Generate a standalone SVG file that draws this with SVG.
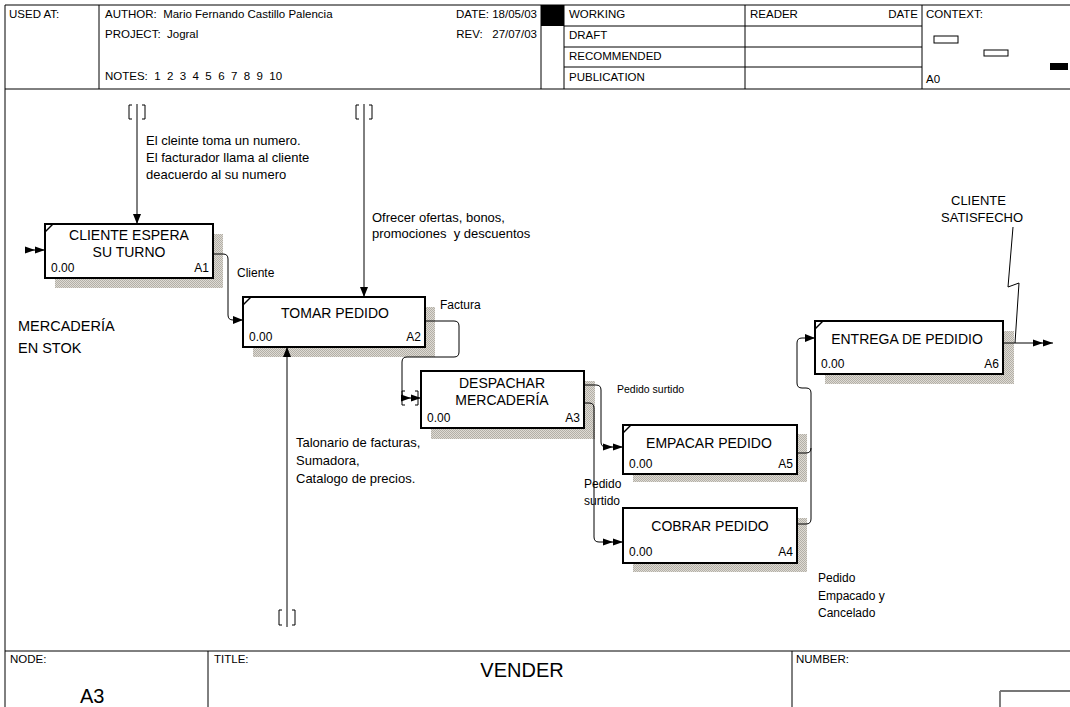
<svg xmlns="http://www.w3.org/2000/svg" width="1070" height="707" viewBox="0 0 1070 707">
<style>
text{font-family:"Liberation Sans",Arial,sans-serif;fill:#000}
.h{font-size:11.5px}
.n{font-size:14px}
.i{font-size:12px}
.t{font-size:13px}
.l{font-size:12px}
.fr{stroke:#000;stroke-width:1;fill:none}
.box{fill:#fff;stroke:#000;stroke-width:2}
.sh{fill:url(#hatch)}
.c path,.c line{stroke:#000;stroke-width:1;fill:none}
.tn{stroke:#333;stroke-width:1.2;fill:none}
</style>
<defs>
<pattern id="hatch" width="2" height="2" patternUnits="userSpaceOnUse"><rect width="2" height="2" fill="#dedbd4"/><rect width="1" height="1" fill="#b3afa7"/><rect x="1" y="1" width="1" height="1" fill="#b3afa7"/></pattern>
<marker id="a1" markerUnits="userSpaceOnUse" markerWidth="10" markerHeight="8" viewBox="0 0 10 8" refX="10" refY="4" orient="auto"><path d="M0,0L10,4L0,8z" fill="#000"/></marker>
<marker id="a2" markerUnits="userSpaceOnUse" markerWidth="20" markerHeight="8" viewBox="0 0 20 8" refX="20" refY="4" orient="auto"><path d="M0,0.5L10,4L0,7.5zM10,0.5L20,4L10,7.5z" fill="#000"/></marker>
</defs>
<rect width="1070" height="707" fill="#fff"/>
<g id="frame">
<path class="fr" d="M5,707V5H1070M5,89H1070M99,5V89M541,5V89M564,5V89M745,5V89M922,5V89M564,26H922M564,47H922M564,67H922"/>
<rect x="541" y="5" width="23" height="21" fill="#000"/>
<path class="fr" d="M5,651H1070M208,651V707M792,651V707M1000,707V691"/>
<path d="M1000,691H1070" stroke="#777" stroke-width="2" fill="none"/>
<text class="h" x="9" y="18">USED AT:</text>
<text class="h" x="105" y="18" xml:space="preserve">AUTHOR:  Mario Fernando Castillo Palencia</text>
<text class="h" x="105" y="38" xml:space="preserve">PROJECT:  Jogral</text>
<text class="h" x="105" y="80" xml:space="preserve">NOTES:  1  2  3  4  5  6  7  8  9  10</text>
<text class="h" x="537" y="18" text-anchor="end">DATE: 18/05/03</text>
<text class="h" x="537" y="38" text-anchor="end" xml:space="preserve">REV:   27/07/03</text>
<text class="h" x="569" y="18">WORKING</text>
<text class="h" x="569" y="39">DRAFT</text>
<text class="h" x="569" y="60">RECOMMENDED</text>
<text class="h" x="569" y="81">PUBLICATION</text>
<text class="h" x="750" y="18">READER</text>
<text class="h" x="918" y="18" text-anchor="end">DATE</text>
<text class="h" x="926" y="18">CONTEXT:</text>
<text class="h" x="926" y="83">A0</text>
<rect x="934" y="36" width="24" height="7" fill="#fff" stroke="#000"/>
<rect x="984" y="50" width="24" height="6" fill="#fff" stroke="#000"/>
<rect x="1050" y="63" width="18" height="7" fill="#000"/>
<text class="h" x="10" y="663">NODE:</text>
<text class="h" x="214" y="663">TITLE:</text>
<text class="h" x="796" y="663">NUMBER:</text>
<text x="522" y="677" text-anchor="middle" font-size="20">VENDER</text>
<text x="80" y="703" font-size="20">A3</text>
</g>
<g id="A1">
<rect class="sh" x="55" y="234" width="168" height="54"/>
<rect class="box" x="45" y="224" width="168" height="54"/>
<line x1="45" y1="232" x2="53" y2="224" stroke="#000" stroke-width="1.5"/>
<text class="n" x="129" y="240" text-anchor="middle">CLIENTE ESPERA</text>
<text class="n" x="129" y="257" text-anchor="middle">SU TURNO</text>
<text class="i" x="51" y="272">0.00</text>
<text class="i" x="209" y="272" text-anchor="end">A1</text>
</g>
<g id="A2">
<rect class="sh" x="253" y="307" width="182" height="50"/>
<rect class="box" x="243" y="297" width="182" height="50"/>
<line x1="243" y1="305" x2="251" y2="297" stroke="#000" stroke-width="1.5"/>
<text class="n" x="335" y="318" text-anchor="middle">TOMAR PEDIDO</text>
<text class="i" x="249" y="341">0.00</text>
<text class="i" x="421" y="341" text-anchor="end">A2</text>
</g>
<g id="A3">
<rect class="sh" x="431" y="381" width="164" height="58"/>
<rect class="box" x="421" y="371" width="163" height="57"/>
<text class="n" x="502" y="388" text-anchor="middle">DESPACHAR</text>
<text class="n" x="502" y="405" text-anchor="middle">MERCADERÍA</text>
<text class="i" x="427" y="422">0.00</text>
<text class="i" x="580" y="422" text-anchor="end">A3</text>
</g>
<g id="A5">
<rect class="sh" x="633" y="434" width="174" height="48"/>
<rect class="box" x="623" y="425" width="174" height="49"/>
<line x1="623" y1="433" x2="631" y2="425" stroke="#000" stroke-width="1.5"/>
<text class="n" x="709" y="448" text-anchor="middle">EMPACAR PEDIDO</text>
<text class="i" x="629" y="468">0.00</text>
<text class="i" x="793" y="468" text-anchor="end">A5</text>
</g>
<g id="A4">
<rect class="sh" x="633" y="518" width="174" height="54"/>
<rect class="box" x="623" y="508" width="174" height="55"/>
<text class="n" x="710" y="531" text-anchor="middle">COBRAR PEDIDO</text>
<text class="i" x="629" y="556">0.00</text>
<text class="i" x="793" y="556" text-anchor="end">A4</text>
</g>
<g id="A6">
<rect class="sh" x="825" y="331" width="189" height="53"/>
<rect class="box" x="815" y="321" width="188" height="53"/>
<line x1="815" y1="329" x2="823" y2="321" stroke="#000" stroke-width="1.5"/>
<text class="n" x="907" y="344" text-anchor="middle">ENTREGA DE PEDIDIO</text>
<text class="i" x="821" y="368">0.00</text>
<text class="i" x="999" y="368" text-anchor="end">A6</text>
</g>
<g id="labels">
<text class="t" x="146" y="145">El cleinte toma un numero.</text>
<text class="t" x="146" y="162">El facturador llama al cliente</text>
<text class="t" x="146" y="179">deacuerdo al su numero</text>
<text class="t" x="372" y="222">Ofrecer ofertas, bonos,</text>
<text class="t" x="372" y="238" xml:space="preserve">promociones  y descuentos</text>
<text class="l" x="237" y="277">Cliente</text>
<text class="l" x="440" y="309">Factura</text>
<text x="18" y="331" font-size="14.5">MERCADERÍA</text>
<text x="18" y="353" font-size="14.5">EN STOK</text>
<text class="t" x="296" y="447">Talonario de facturas,</text>
<text class="t" x="296" y="465">Sumadora,</text>
<text class="t" x="296" y="483">Catalogo de precios.</text>
<text font-size="10.5" x="617" y="393">Pedido surtido</text>
<text class="l" x="584" y="488">Pedido</text>
<text class="l" x="584" y="505">surtido</text>
<text class="l" x="818" y="582">Pedido</text>
<text class="l" x="818" y="600">Empacado y</text>
<text class="l" x="818" y="617">Cancelado</text>
<text class="t" x="951" y="205">CLIENTE</text>
<text class="t" x="941" y="222">SATISFECHO</text>
</g>
<g id="connectors" class="c">
<path d="M25,250H45" marker-end="url(#a2)"/>
<path d="M137,104V224" marker-end="url(#a1)"/>
<path class="tn" d="M132,105h-3v14h3M142,105h3v14h-3"/>
<path d="M364,104V297" marker-end="url(#a1)"/>
<path class="tn" d="M359,105h-3v14h3M369,105h3v14h-3"/>
<path d="M287,627V347" marker-end="url(#a1)"/>
<path class="tn" d="M282,610h-3v15h3M292,610h3v15h-3"/>
<path d="M213,254H223Q228,254 228,259V315Q228,320 233,320H243" marker-end="url(#a1)"/>
<path d="M425,321H454Q459,321 459,326V352Q459,357 454,357H407Q402,357 402,362V393Q402,398 407,398H421" marker-end="url(#a2)"/>
<path class="tn" d="M405,391h-3v14h3M415,391h3v14h-3"/>
<path d="M584,385H596Q601,385 601,390V442Q601,447 606,447H623" marker-end="url(#a2)"/>
<path d="M584,403H589Q594,403 594,408V537Q594,542 599,542H623" marker-end="url(#a2)"/>
<path d="M797,453H806Q811,453 811,448"/>
<path d="M797,524H806Q811,524 811,519V393Q811,388 806,388H802Q797,388 797,383V343Q797,338 802,338H815" marker-end="url(#a1)"/>
<path d="M1003,343H1053" marker-end="url(#a2)"/>
<path d="M1013,227L1008,287L1019,283L1015,343"/>
</g>
</svg>
